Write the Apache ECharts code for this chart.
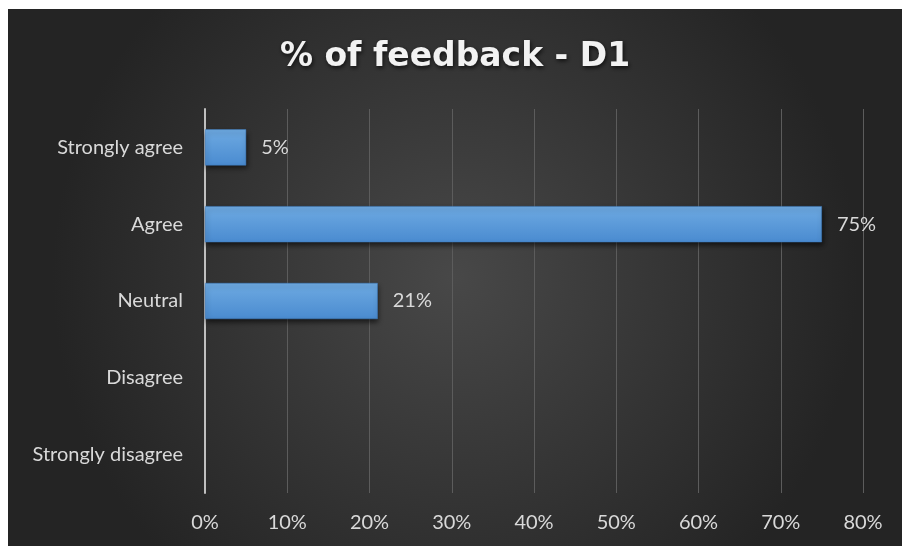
<!DOCTYPE html>
<html>
<head>
<meta charset="utf-8">
<script src="https://cdn.jsdelivr.net/npm/echarts@6/dist/echarts.min.js"></script>
<style>
  html, body { margin: 0; padding: 0; background: #ffffff; }
  #chart { position: absolute; left: 8px; top: 9px; width: 894px; height: 537px; }
</style>
</head>
<body>
<div id="chart"></div>
<script>
// Response categories, top to bottom
const categories = ['Strongly agree', 'Agree', 'Neutral', 'Disagree', 'Strongly disagree'];
// Share of feedback per category (%)
const shares = [5, 75, 21, 0, 0];
// Horizontal axis ticks (%)
const tickValues = [0, 10, 20, 30, 40, 50, 60, 70, 80];

const chart = echarts.init(document.getElementById('chart'));

const labelFont = 'Lato, "Open Sans", sans-serif';

chart.setOption({
  animation: false,
  backgroundColor: {
    type: 'radial', x: 0.5, y: 0.5, r: 0.75,
    colorStops: [
      { offset: 0, color: '#484848' },
      { offset: 1, color: '#242424' }
    ]
  },
  title: {
    text: '% of feedback - D1',
    left: 'center',
    top: 27,
    textStyle: {
      color: '#f2f2f2',
      fontFamily: '"DejaVu Sans", sans-serif',
      fontWeight: 'bold',
      fontSize: 33,
      textShadowColor: 'rgba(0,0,0,0.7)',
      textShadowBlur: 4,
      textShadowOffsetX: 1,
      textShadowOffsetY: 2
    }
  },
  grid: { left: 197, right: 39, top: 100, bottom: 53, containLabel: false },
  xAxis: {
    type: 'value',
    min: tickValues[0],
    max: tickValues[tickValues.length - 1],
    interval: 10,
    axisLine: { show: false },
    axisTick: { show: false },
    splitLine: { show: true, lineStyle: { color: '#5c5c5c', width: 1 } },
    axisLabel: {
      color: '#d9d9d9',
      fontFamily: labelFont,
      fontSize: 20,
      margin: 20,
      formatter: v => v + '%'
    }
  },
  yAxis: {
    type: 'category',
    data: categories,
    inverse: true,
    axisLine: { show: true, lineStyle: { color: '#bfbfbf', width: 2 } },
    axisTick: { show: false },
    axisLabel: {
      color: '#d9d9d9',
      fontFamily: labelFont,
      fontSize: 20,
      margin: 22
    }
  },
  series: [{
    type: 'bar',
    data: shares.map(v => (v > 0 ? v : null)),
    barWidth: '47%',
    itemStyle: {
      color: {
        type: 'linear', x: 0, y: 0, x2: 0, y2: 1,
        colorStops: [
          { offset: 0, color: '#6eaae2' },
          { offset: 1, color: '#4a8bd0' }
        ]
      },
      borderColor: '#3f7fc4',
      borderWidth: 0.5,
      shadowColor: 'rgba(0,0,0,0.6)',
      shadowBlur: 5,
      shadowOffsetX: 1,
      shadowOffsetY: 3
    },
    label: {
      show: true,
      position: 'right',
      distance: 15,
      color: '#d9d9d9',
      fontFamily: labelFont,
      fontSize: 20,
      formatter: p => p.value + '%'
    }
  }]
});
</script>
</body>
</html>
